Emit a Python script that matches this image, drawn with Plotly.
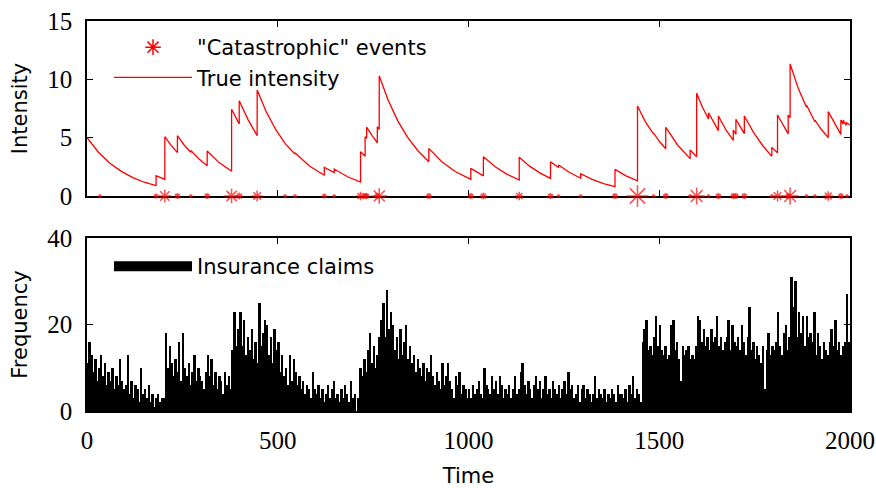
import plotly.graph_objects as go

# ---------------- data ----------------
intensity_t = [
    0, 30, 60, 90, 120, 150, 181,
    181, 204,
    204, 220, 237,
    237, 255, 272,
    272, 293, 315,
    315, 347, 379,
    379, 399,
    399, 422, 446,
    446, 470, 495, 520, 545,
    545, 583, 622,
    622, 648,
    648, 683, 717,
    717, 729,
    729, 733,
    733, 747, 761,
    761, 766,
    766, 790, 815, 840, 868, 896,
    896, 930, 965, 1006,
    1006, 1039,
    1039, 1070, 1100, 1133,
    1133, 1160, 1188, 1215,
    1215, 1236,
    1236, 1265, 1294,
    1294, 1324, 1354, 1384,
    1384, 1413, 1443,
    1443, 1463, 1485,
    1485, 1501, 1517,
    1517, 1549, 1581,
    1581, 1598,
    1598, 1613, 1629,
    1629, 1655,
    1655, 1675, 1694,
    1694, 1701,
    1701, 1723,
    1723, 1747, 1771, 1795,
    1795, 1810,
    1810, 1838,
    1838, 1843,
    1843, 1865, 1886,
    1886, 1908,
    1908, 1925, 1943,
    1943, 1960, 1976,
    1976, 1982,
    1982, 1990,
    1990, 2000,
]
intensity_y = [
    5.0, 3.75, 2.81, 2.11, 1.58, 1.18, 0.88,
    1.74, 1.42,
    5.08, 4.36, 3.72,
    5.17, 4.35, 3.75,
    3.9, 3.2, 2.6,
    3.86, 2.84, 2.12,
    7.43, 6.18,
    8.17, 6.55, 5.17,
    9.08, 7.21, 5.68, 4.47, 3.6,
    3.7, 2.57, 1.78,
    2.46, 2.0,
    2.31, 1.65, 1.2,
    3.8, 3.4,
    5.08, 4.95,
    5.9, 5.2, 4.55,
    5.94, 5.7,
    10.28, 8.17, 6.42, 5.05, 3.86, 2.94,
    4.08, 2.94, 2.1, 1.42,
    2.37, 1.73,
    3.37, 2.5, 1.88, 1.37,
    3.32, 2.56, 1.96, 1.51,
    2.94, 2.45,
    2.66, 2.01, 1.52,
    1.91, 1.43, 1.07, 0.8,
    2.28, 1.73, 1.3,
    7.71, 6.4, 5.3,
    5.4, 4.65, 4.05,
    5.89, 4.33, 3.2,
    3.94, 3.36,
    8.8, 7.62, 6.6,
    7.14, 5.6,
    6.86, 5.66, 4.76,
    5.65, 5.3,
    6.57, 5.34,
    6.86, 5.45, 4.33, 3.4,
    4.17, 3.7,
    6.94, 5.33,
    6.94, 6.7,
    11.31, 9.16, 7.6,
    7.8, 6.37,
    6.5, 5.7, 5.0,
    7.23, 6.2, 5.28,
    6.51, 6.15,
    6.5, 6.05,
    6.3, 6.08,
]

event_t = [34, 181, 204, 237, 272, 315, 379, 399, 446, 519, 545, 622, 648,
           717, 729, 733, 761, 766, 896, 1006, 1039, 1133, 1215, 1236, 1294,
           1384, 1443, 1485, 1517, 1581, 1598, 1629, 1655, 1694, 1701, 1723,
           1795, 1810, 1838, 1843, 1886, 1908, 1943, 1976, 1992]
event_size = [3, 4, 11, 5, 3, 5, 12, 6, 9, 3, 3, 4, 3,
              7, 5, 5, 5, 13, 5, 5, 6, 7, 5, 3, 3,
              5, 18, 3, 5, 3, 14, 3, 5, 5, 5, 5,
              3, 9, 5, 14, 3, 3, 8, 5, 3]
legend_marker_size = 13

# insurance claims, one value per 5 time units (rows of 100 time units)
claims = [
    11, 16, 13, 9, 12, 7, 10, 13, 8, 11, 6, 9, 7, 10, 5, 8, 6, 12, 7, 5,
    6, 13, 4, 7, 3, 6, 5, 2, 10, 4, 5, 3, 6, 2, 4, 1, 3, 4, 2, 3,
    3, 18, 10, 15, 11, 8, 12, 9, 16, 7, 18, 10, 8, 11, 6, 9, 13, 7, 10, 8,
    7, 5, 9, 13, 8, 12, 6, 9, 5, 8, 7, 4, 9, 6, 8, 5, 14, 23, 15, 19,
    23, 15, 21, 13, 17, 14, 19, 12, 16, 11, 25, 15, 18, 21, 20, 13, 17, 11, 19, 14,
    16, 9, 13, 8, 10, 6, 13, 7, 12, 9, 6, 8, 5, 7, 4, 6, 5, 3, 9, 5,
    4, 6, 3, 5, 2, 4, 6, 3, 5, 7, 3, 4, 2, 5, 3, 6, 4, 2, 7, 3,
    4, 0, 3, 10, 8, 12, 9, 14, 18, 11, 15, 10, 13, 17, 21, 25, 17, 28, 19, 23,
    20, 14, 17, 12, 19, 13, 16, 20, 12, 15, 11, 13, 9, 12, 10, 8, 11, 7, 10, 9,
    13, 8, 6, 9, 7, 5, 11, 6, 8, 11, 7, 5, 3, 8, 6, 9, 4, 6, 5, 3,
    5, 3, 6, 4, 5, 7, 4, 3, 10, 6, 5, 4, 8, 5, 7, 4, 8, 6, 3, 5,
    4, 6, 3, 5, 8, 4, 5, 9, 11, 6, 4, 7, 5, 3, 6, 8, 5, 7, 3, 5,
    8, 4, 5, 3, 7, 5, 4, 6, 3, 5, 7, 4, 9, 5, 6, 3, 4, 6, 2, 5,
    6, 3, 5, 4, 2, 4, 8, 3, 5, 4, 3, 5, 2, 4, 3, 5, 4, 2, 6, 4,
    4, 3, 5, 2, 6, 4, 8, 3, 5, 4, 2, 16, 19, 21, 14, 15, 13, 17, 22, 15,
    20, 14, 13, 15, 12, 13, 20, 21, 14, 16, 12, 7, 15, 13, 14, 15, 12, 13, 12, 15,
    22, 21, 16, 19, 15, 17, 14, 19, 16, 17, 22, 15, 17, 14, 16, 17, 21, 14, 20, 16,
    15, 17, 14, 20, 16, 13, 17, 24, 14, 16, 12, 15, 13, 11, 15, 5, 14, 18, 13, 15,
    14, 16, 23, 15, 13, 18, 20, 14, 17, 31, 24, 30, 17, 23, 18, 22, 15, 22, 17, 18,
    16, 23, 13, 18, 15, 12, 16, 14, 13, 16, 19, 15, 21, 14, 16, 13, 15, 16, 27, 16,
]
claim_bin = 5
claim_t = [i * claim_bin + claim_bin / 2 for i in range(len(claims))]

x_ticks = [0, 500, 1000, 1500, 2000]
y1_ticks = [0, 5, 10, 15]
y2_ticks = [0, 20, 40]

# ---------------- figure ----------------
TICK_FONT = dict(family="Liberation Serif", size=25, color="black")
TEXT_FONT = dict(family="DejaVu Sans", size=21, color="black")

# plot area: x 87..850 px, y 21..411 px
ML, MR, MT, MB = 87, 26, 21, 77
PH = 488 - MT - MB  # 390


def py(pix):
    return (488 - MB - pix) / PH


fig = go.Figure()

fig.add_trace(go.Scatter(
    x=event_t, y=[0] * len(event_t), mode="markers",
    name='"Catastrophic" events', showlegend=False,
    marker=dict(symbol="asterisk-open", size=event_size, color="red",
                line=dict(color="red", width=1.5)),
    cliponaxis=False, xaxis="x", yaxis="y"))

# legend entries
fig.add_trace(go.Scatter(
    x=[None], y=[None], mode="markers", name='"Catastrophic" events',
    marker=dict(symbol="asterisk-open", size=legend_marker_size, color="red",
                line=dict(color="red", width=1.5)),
    xaxis="x", yaxis="y", legend="legend"))

fig.add_trace(go.Scatter(
    x=intensity_t, y=intensity_y, mode="lines", name="True intensity",
    line=dict(color="red", width=1.3),
    xaxis="x", yaxis="y", legend="legend"))

fig.add_trace(go.Bar(
    x=claim_t, y=claims, width=claim_bin, showlegend=False,
    marker=dict(color="black", line=dict(width=0)),
    xaxis="x2", yaxis="y2"))

fig.add_trace(go.Scatter(
    x=[None], y=[None], mode="lines", name="Insurance claims",
    line=dict(color="black", width=17),
    xaxis="x2", yaxis="y2", legend="legend2"))

axis_common = dict(showline=True, linecolor="black", linewidth=1.5,
                   mirror="ticks", ticks="inside", ticklen=6, tickwidth=1.2,
                   tickcolor="black", showgrid=False, zeroline=False,
                   tickfont=TICK_FONT, layer="below traces", automargin=False)

fig.update_layout(
    width=876, height=488,
    margin=dict(l=ML, r=MR, t=MT, b=MB, autoexpand=False),
    paper_bgcolor="white", plot_bgcolor="white",
    bargap=0,
    xaxis=dict(domain=[0, 1], range=[0, 2000], anchor="y",
               tickvals=x_ticks, showticklabels=False, **axis_common),
    yaxis=dict(domain=[py(196), 1], range=[0, 15],
               anchor="x", tickvals=y1_ticks, ticklabelstandoff=8,
               title=dict(text="Intensity", font=TEXT_FONT, standoff=14),
               **axis_common),
    xaxis2=dict(domain=[0, 1], range=[0, 2000], anchor="y2",
                tickvals=x_ticks, ticklabelstandoff=6,
                title=dict(text="Time", font=TEXT_FONT, standoff=20),
                **axis_common),
    yaxis2=dict(domain=[0, py(238)], range=[0, 40],
                anchor="x2", tickvals=y2_ticks, ticklabelstandoff=8,
                title=dict(text="Frequency", font=TEXT_FONT, standoff=14),
                **axis_common),
    legend=dict(x=(109 - ML) / 763, y=py(27), xanchor="left", yanchor="top",
                bgcolor="rgba(0,0,0,0)", font=TEXT_FONT, itemwidth=78,
                tracegroupgap=0),
    legend2=dict(x=(109 - ML) / 763, y=py(246), xanchor="left", yanchor="top",
                 bgcolor="rgba(0,0,0,0)", font=TEXT_FONT, itemwidth=78),
)

fig.write_html("out.html")
